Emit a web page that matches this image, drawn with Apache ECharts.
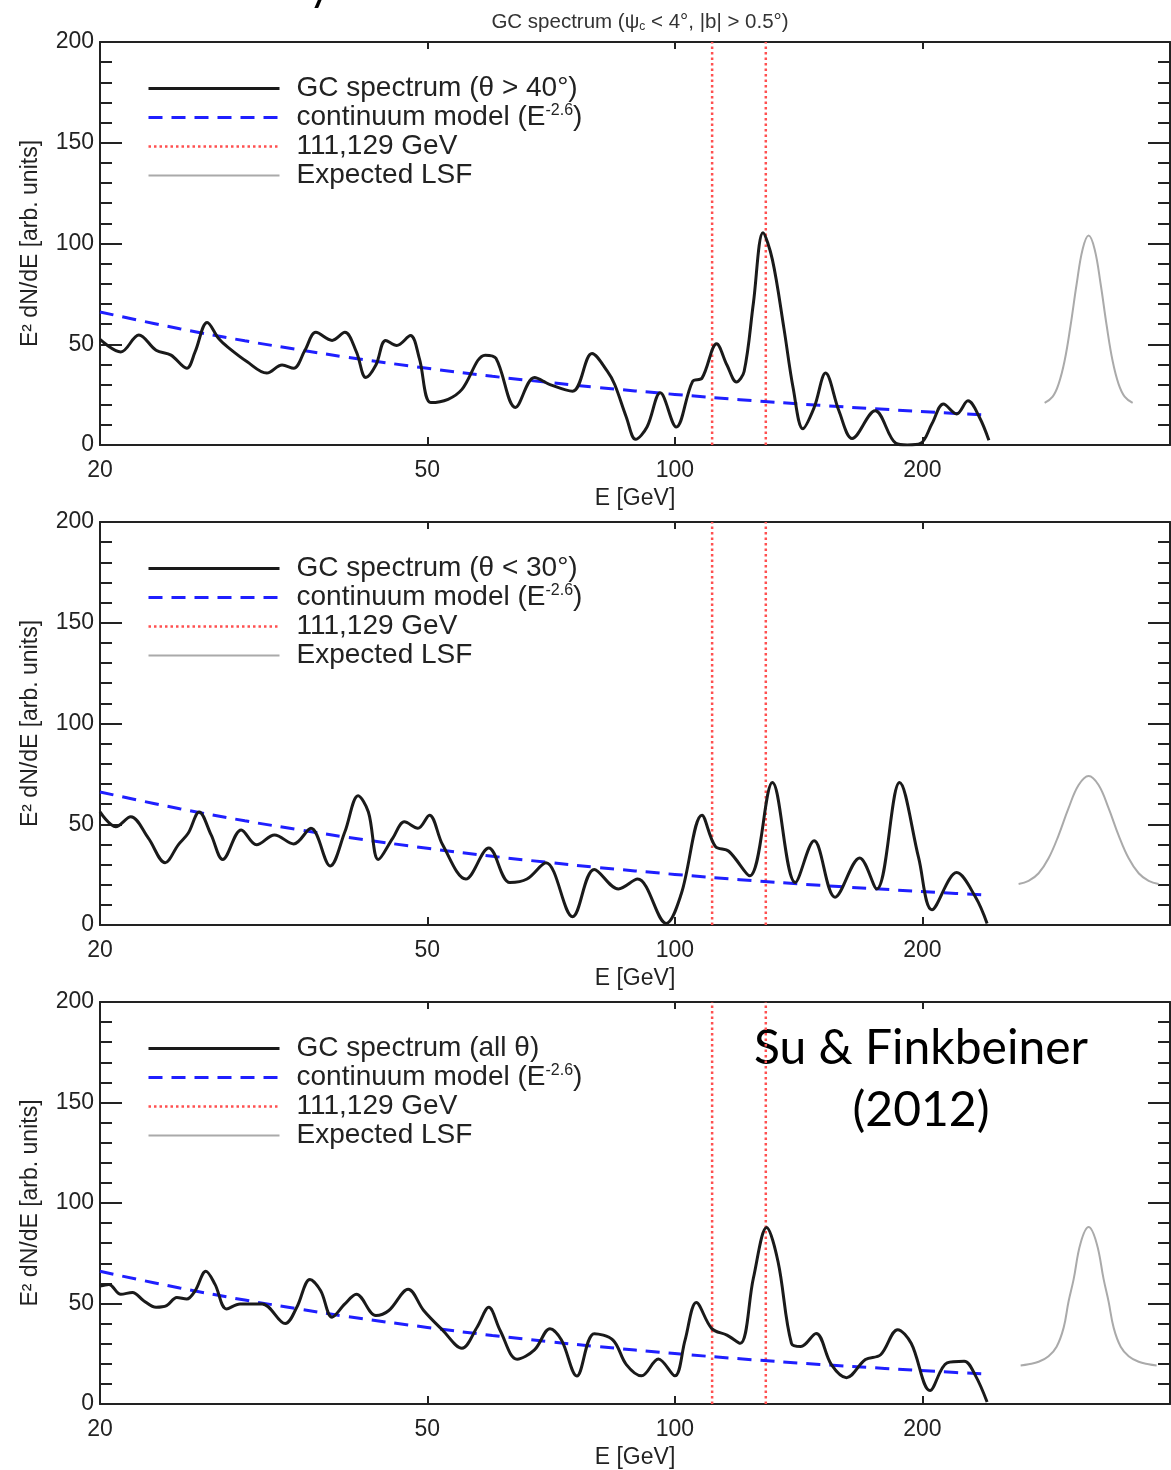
<!DOCTYPE html>
<html><head><meta charset="utf-8">
<script src="https://cdn.jsdelivr.net/npm/echarts@6/dist/echarts.min.js"></script>
<style>html,body{margin:0;padding:0;background:#fff}#c{width:1171px;height:1470px}</style>
</head><body><div id="c"></div>
<script>
// ---------- data ----------
const xMin = 20, xMax = 400;
const yMin = 0, yMax = 200, yStep = 50;
const xTickLabels = [20, 50, 100, 200];
const xMajorTicks = [50, 100, 200];
const lineEnergies = [111, 129];

const titleText = 'GC spectrum (ψ{c|c} < 4°, |b| > 0.5°)';
const panelNames = ['GC spectrum (θ > 40°)', 'GC spectrum (θ < 30°)', 'GC spectrum (all θ)'];

const contE = [20, 25, 30, 35, 40, 50, 60, 70, 80, 100, 120, 150, 180, 210, 241];
const contY = [66.0, 57.7, 51.7, 47.2, 43.5, 38.1, 34.1, 31.1, 28.7, 25.1, 22.5, 19.7, 17.7, 16.1, 14.8];

const gc1E = [20, 21.2, 22.3, 23.4, 24.4, 25.5, 26.1, 27.0, 27.9, 28.6, 30.2, 31.9, 33.3, 34.4, 35.5, 36.6, 38.3, 39.7, 41.0, 42.1, 43.3, 44.5, 45.9, 47.7, 48.9, 50.5, 53.0, 55.1, 58.8, 60.6, 64.0, 67.5, 70.5, 75.1, 79.3, 82.8, 84.5, 87.3, 89.6, 92.5, 96.0, 100.4, 105.1, 107.9, 112.4, 115.7, 118.8, 121.4, 124.6, 128.0, 131.4, 135.7, 139.3, 143.1, 147.7, 152.5, 158.3, 164.3, 175.2, 185.7, 191.7, 199.0, 205.4, 212.1, 220.1, 227.2, 234.6, 240.9];
const gc1Y = [52.4, 46.2, 54.6, 47.0, 44.6, 38.1, 46.2, 60.8, 52.7, 48.6, 41.3, 35.7, 39.7, 38.1, 47.0, 55.9, 51.9, 55.9, 46.2, 33.5, 39.7, 51.9, 49.4, 54.3, 43.0, 21.1, 22.7, 27.6, 44.6, 43.0, 18.6, 33.5, 30.0, 26.7, 45.4, 36.5, 30.0, 13.8, 2.8, 8.9, 25.9, 8.9, 31.6, 33.2, 50.2, 39.7, 31.3, 36.5, 70.5, 105.3, 92.0, 58.0, 28.0, 8.1, 18.6, 35.7, 17.0, 3.2, 17.0, 0.8, 0, 0.8, 10.5, 20.3, 15.4, 21.9, 13.8, 2.4];

const gc2E = [20, 20.9, 21.8, 22.9, 24.0, 24.9, 25.6, 26.4, 27.3, 28.2, 29.7, 31.0, 32.6, 34.4, 36.1, 38.1, 39.7, 41.2, 42.4, 43.6, 45.4, 46.9, 48.7, 50.3, 52.2, 55.7, 59.4, 63.0, 66.1, 69.7, 75.1, 79.8, 85.4, 90.1, 97.6, 101.8, 107.9, 112.0, 116.3, 123.3, 131.4, 140.1, 147.7, 156.6, 167.8, 176.0, 187.6, 197.9, 205.4, 220.1, 232.1, 239.7];
const gc2Y = [56.1, 48.8, 53.7, 43.1, 30.9, 39.8, 45.5, 56.1, 44.7, 32.5, 47.2, 39.8, 44.7, 40.2, 48.0, 29.3, 46.3, 64.2, 56.1, 32.5, 43.1, 51.2, 48.0, 54.5, 39.8, 22.8, 38.2, 21.1, 22.8, 30.9, 4.1, 27.6, 17.9, 22.8, 0.8, 15.4, 54.5, 39.0, 36.6, 24.4, 70.7, 21.1, 41.8, 13.8, 33.3, 17.9, 70.7, 33.3, 7.6, 26.0, 13.8, 0.8];

const gc3E = [20, 20.5, 21.2, 21.9, 22.6, 23.4, 24.1, 24.8, 25.5, 26.1, 26.9, 27.6, 28.5, 29.6, 31.5, 33.6, 34.7, 36.0, 37.1, 38.3, 39.7, 41.0, 43.3, 44.9, 47.4, 49.5, 52.2, 55.1, 57.5, 59.4, 61.3, 64.3, 67.5, 70.5, 72.8, 76.0, 79.8, 84.1, 87.3, 91.1, 95.5, 100.0, 102.9, 106.2, 110.9, 115.7, 120.1, 124.6, 129.3, 133.5, 138.6, 142.3, 148.5, 155.0, 161.7, 170.5, 177.9, 186.6, 193.8, 204.3, 214.3, 224.8, 232.1, 239.7];
const gc3Y = [58.7, 59.5, 54.6, 55.5, 51.4, 48.1, 48.9, 53.0, 52.2, 56.3, 66.1, 59.5, 47.3, 49.8, 49.8, 40.0, 48.1, 62.0, 56.3, 43.2, 49.8, 54.6, 44.0, 46.5, 57.1, 46.5, 36.7, 27.7, 38.3, 48.1, 36.7, 22.3, 26.9, 37.5, 31.8, 13.9, 35.0, 31.8, 19.6, 14.0, 22.4, 14.0, 31.8, 50.5, 37.5, 34.3, 30.2, 62.7, 87.8, 70.8, 30.2, 28.6, 35.1, 19.6, 13.1, 22.1, 24.5, 37.0, 30.2, 6.7, 20.5, 21.3, 14.0, 1.0];

const lsf1E = [281.6, 288.0, 292.8, 297.8, 302.8, 308.0, 313.2, 318.5, 323.9, 329.4, 335.0, 340.6, 346.4, 352.3, 360.3];
const lsf1Y = [20.9, 24.0, 30.2, 41.8, 59.3, 79.9, 97.2, 104.0, 97.2, 79.9, 59.3, 41.8, 30.2, 24.0, 20.9];
const lsf2E = [261.8, 269.2, 276.9, 284.7, 292.8, 301.1, 309.7, 318.5, 327.5, 336.8, 346.4, 356.3, 366.4, 376.8, 387.5];
const lsf2Y = [20.3, 21.9, 25.7, 33.1, 44.5, 58.0, 69.5, 74.0, 69.5, 58.0, 44.5, 33.1, 25.7, 21.9, 20.3];
const lsf3E = [263.3, 269.2, 276.9, 284.7, 291.2, 297.0, 301.1, 305.4, 311.4, 318.5, 325.7, 332.2, 336.8, 341.6, 348.4, 356.3, 366.4, 376.8, 385.3];
const lsf3Y = [19.2, 19.8, 21.0, 23.8, 28.5, 38.0, 51.0, 62.0, 80.0, 88.0, 80.0, 62.0, 51.0, 38.0, 28.5, 23.8, 21.0, 19.8, 19.2];

// ---------- build ----------
const L = v => Math.log10(v);
const pairs = (xs, ys) => xs.map((e, k) => [L(e), ys[k]]);
const panels = [
  {name: panelNames[0], e: gc1E, y: gc1Y, le: lsf1E, ly: lsf1Y},
  {name: panelNames[1], e: gc2E, y: gc2Y, le: lsf2E, ly: lsf2Y},
  {name: panelNames[2], e: gc3E, y: gc3Y, le: lsf3E, ly: lsf3Y}
];
const panelTops = [42, 522, 1002];
const gridH = 403;
const FF = '"Liberation Sans", Arial, sans-serif';
const INK = '#222';

const grids = [], xAxes = [], yAxes = [], series = [], legends = [];
panels.forEach((p, i) => {
  const top = panelTops[i];
  grids.push({left: 100, right: 1, top: top, height: gridH});
  const axisLine = {show: true, onZero: false, lineStyle: {color: INK, width: 2}};
  const tickStyle = {color: INK, width: 2};
  xAxes.push({
    type: 'value', gridIndex: i, position: 'bottom', min: L(xMin), max: L(xMax),
    axisLine: axisLine, splitLine: {show: false},
    axisTick: {show: true, inside: true, length: 8, customValues: xMajorTicks.map(L), lineStyle: tickStyle},
    axisLabel: {show: true, customValues: xTickLabels.map(L), formatter: v => String(Math.round(Math.pow(10, v))),
      fontSize: 23, color: INK, margin: 14, fontFamily: FF},
    name: 'E [GeV]', nameLocation: 'middle', nameGap: 42,
    nameTextStyle: {fontSize: 23, color: INK, fontFamily: FF}
  });
  xAxes.push({
    type: 'value', gridIndex: i, position: 'top', min: L(xMin), max: L(xMax),
    axisLine: axisLine, splitLine: {show: false},
    axisTick: {show: true, inside: true, length: 7, customValues: xMajorTicks.map(L), lineStyle: tickStyle},
    axisLabel: {show: false}
  });
  const yCommon = {
    type: 'value', gridIndex: i, min: yMin, max: yMax, interval: yStep,
    axisLine: axisLine, splitLine: {show: false},
    axisTick: {show: true, inside: true, length: 22, lineStyle: tickStyle},
    minorTick: {show: true, splitNumber: 5, length: 12, lineStyle: tickStyle}
  };
  yAxes.push(Object.assign({}, yCommon, {
    position: 'left',
    axisLabel: {show: true, fontSize: 23, color: INK, margin: 6, fontFamily: FF},
    name: 'E² dN/dE [arb. units]', nameLocation: 'middle', nameGap: 58,
    nameTextStyle: {fontSize: 23, color: INK, fontFamily: FF}
  }));
  yAxes.push(Object.assign({}, yCommon, {position: 'right', axisLabel: {show: false}}));

  const base = {type: 'line', xAxisIndex: 2 * i, yAxisIndex: 2 * i, symbol: 'none', silent: true};
  lineEnergies.forEach(e => {
    series.push(Object.assign({}, base, {name: '111,129 GeV', data: [[L(e), yMin], [L(e), yMax]],
      lineStyle: {color: '#ff5050', width: 2.5, type: [2.5, 3]}, z: 2}));
  });
  series.push(Object.assign({}, base, {name: 'continuum model', data: pairs(contE, contY), smooth: 0.4,
    lineStyle: {color: '#1f1fff', width: 3, type: [14, 9]}, z: 3}));
  series.push(Object.assign({}, base, {name: 'Expected LSF', data: pairs(p.le, p.ly), smooth: 0.4,
    lineStyle: {color: '#aaaaaa', width: 2}, z: 3}));
  series.push(Object.assign({}, base, {name: p.name, data: pairs(p.e, p.y), smooth: 0.35,
    lineStyle: {color: '#1a1a1a', width: 3}, z: 4}));

  legends.push({
    orient: 'vertical', left: 147, top: top + 32, padding: 0, itemWidth: 131, itemHeight: 29, itemGap: 0,
    selectedMode: false,
    data: [p.name, 'continuum model', '111,129 GeV', 'Expected LSF'],
    formatter: n => n === 'continuum model' ? 'continuum model (E{s|-2.6})' : n,
    itemStyle: {opacity: 0},
    lineStyle: {width: 'inherit'},
    textStyle: {fontSize: 28, color: INK, fontFamily: FF, lineHeight: 29, padding: [0, 0, 0, 12],
      rich: {s: {fontSize: 16, color: INK, fontFamily: FF, verticalAlign: 'top', lineHeight: 16}}}
  });
});

const chart = echarts.init(document.getElementById('c'), null, {renderer: 'canvas'});
chart.setOption({
  backgroundColor: '#fff',
  animation: false,
  grid: grids, xAxis: xAxes, yAxis: yAxes, series: series, legend: legends,
  graphic: [
    {type: 'text', x: 640, y: 22, silent: true,
      style: {text: titleText, fontSize: 20.5, fontFamily: FF, fill: '#333', align: 'center', verticalAlign: 'middle',
        rich: {c: {fontSize: 12, fontFamily: FF, fill: '#333', verticalAlign: 'bottom', padding: [8, 0, 0, 0]}}}},
    {type: 'text', x: 921, y: 1018, silent: true,
      style: {text: 'Su & Finkbeiner\n(2012)', fontSize: 48, fontFamily: 'Lato, sans-serif', fill: '#000',
        align: 'center', verticalAlign: 'top', lineHeight: 62}},
    {type: 'text', x: 320, y: -14, silent: true,
      style: {text: 'y', fontSize: 44, fontFamily: 'Lato, sans-serif', fill: '#000', align: 'center', verticalAlign: 'middle'}}
  ]
});
</script></body></html>
